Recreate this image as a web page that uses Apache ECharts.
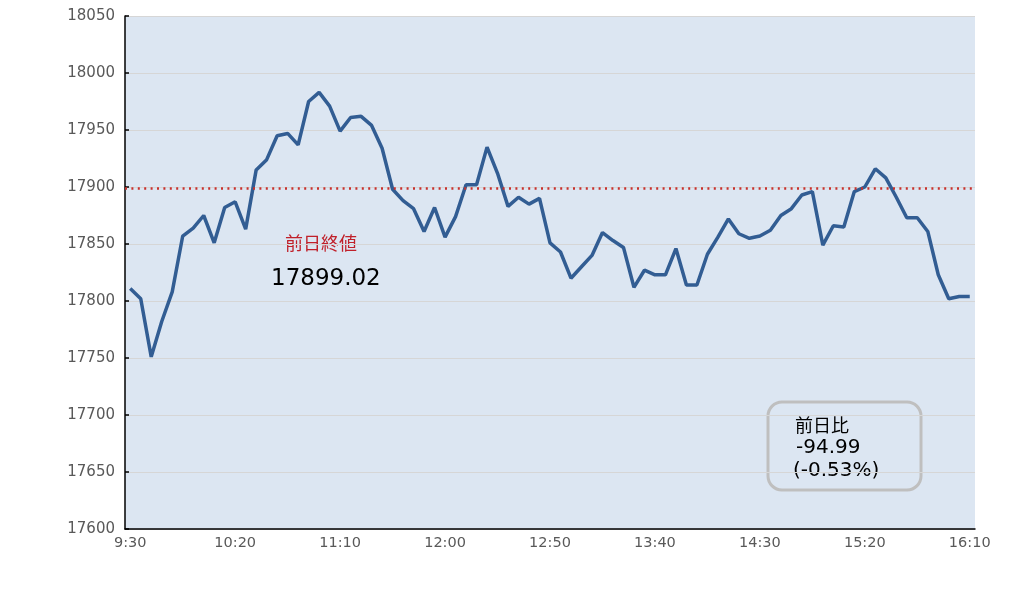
<!DOCTYPE html>
<html>
<head>
<meta charset="utf-8">
<script src="https://cdn.jsdelivr.net/npm/echarts@6/dist/echarts.min.js"></script>
<style>
  html, body { margin: 0; padding: 0; background: #fff; }
  #main { width: 1036px; height: 598px; }
</style>
</head>
<body>
<div id="main"></div>
<script>
// 5分刻みの時刻 9:30 - 16:10
var times = [];
for (var m = 9 * 60 + 30; m <= 16 * 60 + 10; m += 5) {
  times.push(Math.floor(m / 60) + ':' + ('0' + (m % 60)).slice(-2));
}

var prices = [
  17811, 17802, 17751, 17782, 17808, 17857, 17864, 17875, 17851, 17882,
  17887, 17863, 17915, 17924, 17945, 17947, 17937, 17975, 17983, 17971,
  17949, 17961, 17962, 17954, 17934, 17898, 17888, 17881, 17861, 17882,
  17856, 17874, 17902, 17902, 17935, 17912, 17883, 17891, 17885, 17890,
  17851, 17843, 17820, 17830, 17840, 17860, 17853, 17847, 17812, 17827,
  17823, 17823, 17846, 17814, 17814, 17841, 17856, 17872, 17859, 17855,
  17857, 17862, 17875, 17881, 17893, 17896, 17849, 17866, 17865, 17896,
  17900, 17916, 17908, 17891, 17873, 17873, 17861, 17823, 17802, 17804,
  17804
];

var prevClose = 17899.02;
var diff = -94.99;
var diffPct = -0.53;

var yMin = 17600;
var yMax = 18050;
var yStep = 50;

var font = '"DejaVu Sans", "Noto Sans CJK JP", sans-serif';
var jpFont = '"Noto Sans CJK JP", sans-serif';

var chart = echarts.init(document.getElementById('main'));
chart.setOption({
  animation: false,
  backgroundColor: '#ffffff',
  grid: {
    left: 125, right: 61, top: 16, bottom: 69,
    show: true, backgroundColor: '#dce6f2', borderWidth: 0
  },
  xAxis: {
    type: 'category',
    data: times,
    boundaryGap: true,
    axisLine: { lineStyle: { color: '#000', width: 1.5 } },
    axisTick: {
      inside: true, length: 4,
      lineStyle: { color: '#000', width: 1.5 },
      interval: function (i) { return i % 10 === 5 || i === times.length - 1; }
    },
    axisLabel: {
      interval: function (i) { return i % 10 === 0; },
      color: '#595959', fontSize: 14.5, fontFamily: font, margin: 7
    },
    splitLine: { show: false }
  },
  yAxis: {
    type: 'value',
    min: yMin, max: yMax, interval: yStep,
    axisLine: { show: true, lineStyle: { color: '#000', width: 1.5 } },
    axisTick: { show: true, inside: true, length: 4, lineStyle: { color: '#000', width: 1.5 } },
    axisLabel: {
      color: '#595959', fontSize: 15, fontFamily: font, margin: 10,
      formatter: function (v) { return String(v); }
    },
    splitLine: { lineStyle: { color: '#d6d6d6', width: 1 } }
  },
  series: [{
    type: 'line',
    data: prices,
    symbol: 'none',
    lineStyle: { color: '#325d93', width: 3.5 },
    markLine: {
      silent: true,
      symbol: 'none',
      label: { show: false },
      lineStyle: { color: '#c8302c', type: [2, 4.4], width: 2.5 },
      data: [{ yAxis: prevClose }]
    }
  }],
  graphic: [
    {
      type: 'text', x: 285, y: 243,
      style: { text: '前日終値', fill: '#c0202a', font: '18px ' + jpFont, verticalAlign: 'middle' }
    },
    {
      type: 'text', x: 271, y: 279,
      style: { text: prevClose.toFixed(2), fill: '#000', font: '23px ' + font, verticalAlign: 'middle' }
    },
    {
      type: 'rect',
      shape: { x: 768, y: 402, width: 153, height: 88, r: 14 },
      style: { fill: 'none', stroke: '#bfbfbf', lineWidth: 3 }
    },
    {
      type: 'text', x: 795, y: 425,
      style: { text: '前日比', fill: '#000', font: '18px ' + jpFont, verticalAlign: 'middle' }
    },
    {
      type: 'text', x: 796, y: 448,
      style: { text: diff.toFixed(2), fill: '#000', font: '20px ' + font, verticalAlign: 'middle' }
    },
    {
      type: 'text', x: 793, y: 471,
      style: { text: '(' + diffPct.toFixed(2) + '%)', fill: '#000', font: '20px ' + font, verticalAlign: 'middle' }
    }
  ]
});
</script>
</body>
</html>
